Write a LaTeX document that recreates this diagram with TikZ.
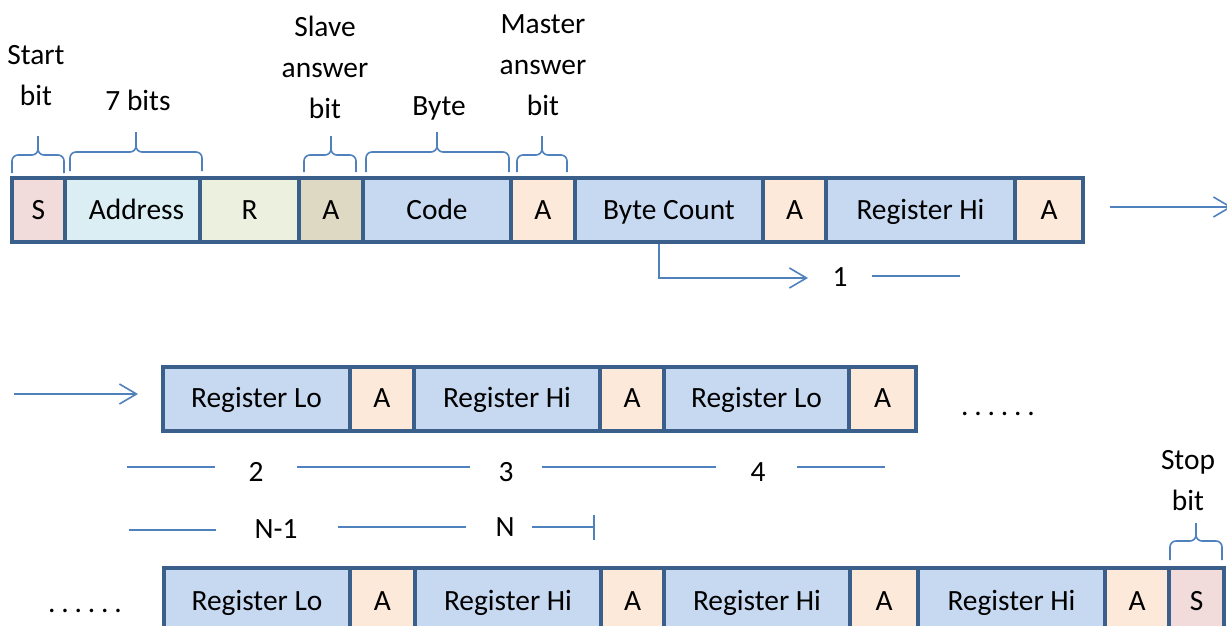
\documentclass[tikz,border=0pt]{standalone}
\usepackage{fontspec}
\setmainfont{Carlito}
\usetikzlibrary{arrows.meta}
\definecolor{cS}{HTML}{F2DCDB}
\definecolor{cAddr}{HTML}{DBEEF4}
\definecolor{cR}{HTML}{EBF1DE}
\definecolor{cAs}{HTML}{DDD9C3}
\definecolor{cBlue}{HTML}{C6D9F1}
\definecolor{cA}{HTML}{FDE9D9}
\definecolor{cBorder}{HTML}{3A5F8B}
\definecolor{lineblue}{HTML}{4F81BD}
\newcommand\rt{178}
\newcommand\rb{242}
\newcommand\rbase{219.3}
\newcommand\mycell[5]{%
  \draw[cellline, fill=#4] (#2,\rt) rectangle (#3,\rb);
  \node[txt] (#1) at ({(#2+#3)/2},\rbase) {#5};
}
\newcommand\mybrace[6]{%
  \draw[bracest] (#1,#6) |- (#3,#4) -- (#3,#5);
  \draw[bracest] (#2,#6) |- (#3,#4) -- (#3,#5);
}
\newcommand\mydots{.\hspace{5.8pt}.\hspace{5.8pt}.\hspace{5.8pt}.\hspace{5.8pt}.\hspace{5.8pt}.}
\begin{document}
\begin{tikzpicture}[x=1pt,y=-1pt,
  font=\fontsize{29.4}{41}\selectfont,
  txt/.style={inner sep=0pt, anchor=base},
  cellline/.style={draw=cBorder, line width=4.5pt},
  thinln/.style={draw=lineblue, line width=1.6pt},
  bracest/.style={thinln, rounded corners=6pt},
  arr/.style={thinln, -{Straight Barb[length=17pt,width=20pt]}}]
\useasboundingbox (0,0) rectangle (1227,626);
\clip (0,0) rectangle (1227,626);
\fill[white] (0,0) rectangle (1227,626);

% ---- row 1
\renewcommand\rt{178}\renewcommand\rb{242}\renewcommand\rbase{219.3}
\mycell{s1}{12}{65}{cS}{S}
\mycell{addr}{65}{200}{cAddr}{\hspace{8pt}Address}
\mycell{r}{200}{299}{cR}{R}
\mycell{a1}{299}{363}{cAs}{A}
\mycell{code}{363}{511}{cBlue}{Code}
\mycell{a2}{511}{575}{cA}{A}
\mycell{bc}{575}{763}{cBlue}{Byte Count}
\mycell{a3}{763}{826}{cA}{A}
\mycell{rh1}{826}{1015}{cBlue}{Register Hi}
\mycell{a4}{1015}{1083}{cA}{A}

% ---- row 2
\renewcommand\rt{367}\renewcommand\rb{431}\renewcommand\rbase{407.5}
\mycell{rl1}{163}{350}{cBlue}{Register Lo}
\mycell{a5}{350}{414}{cA}{A}
\mycell{rh2}{414}{600}{cBlue}{Register Hi}
\mycell{a6}{600}{664}{cA}{A}
\mycell{rl2}{664}{849}{cBlue}{Register Lo}
\mycell{a7}{849}{916}{cA}{A}

% ---- row 3
\renewcommand\rt{568}\renewcommand\rb{636}\renewcommand\rbase{610}
\mycell{rl3}{164}{350}{cBlue}{Register Lo}
\mycell{a8}{350}{415}{cA}{A}
\mycell{rh3}{415}{601}{cBlue}{Register Hi}
\mycell{a9}{601}{664}{cA}{A}
\mycell{rh4}{664}{850}{cBlue}{Register Hi}
\mycell{a10}{850}{918}{cA}{A}
\mycell{rh5}{918}{1105}{cBlue}{Register Hi}
\mycell{a11}{1105}{1169}{cA}{A}
\mycell{s2}{1169}{1224}{cS}{S}

% ---- labels (base = baseline of last line)
\node[txt, align=center] (lstart) at (36,105.8) {Start\\bit};
\node[txt] (lseven) at (138,110.7) {7 bits};
\node[txt, align=center] (lslave) at (325,118.3) {Slave\\answer\\bit};
\node[txt] (lbyte) at (439,115.4) {Byte};
\node[txt, align=center] (lmaster) at (543,115.8) {Master\\answer\\bit};
\node[txt, align=center] (lstop) at (1188,510) {Stop\\bit};

% ---- braces
\mybrace{12}{64}{38}{155}{136}{173}
\mybrace{70}{202}{136}{152}{132}{171}
\mybrace{304}{356}{331}{155}{136}{172}
\mybrace{366}{509}{437}{152}{132}{172}
\mybrace{517}{567}{542}{155}{136}{172}
\mybrace{1170}{1222}{1196}{541}{523}{560}

% ---- arrows
\coordinate (outA) at (1110,207);
\coordinate (outB) at (1232,207);
\draw[arr] (outA) -- (outB);
\coordinate (inA) at (14,394);
\coordinate (inB) at (138,394);
\draw[arr] (inA) -- (inB);
\coordinate (bcA) at (659,244);
\coordinate (bcB) at (808,278);
\draw[arr] (bcA) |- (bcB);

% ---- numbers and count lines
\node[txt] (n1) at (840,286) {1};
\coordinate (l1a) at (872,276); \coordinate (l1b) at (960,276);
\draw[thinln] (l1a) -- (l1b);

\node[txt] (n2) at (256,481.5) {2};
\node[txt] (n3) at (506,481.5) {3};
\node[txt] (n4) at (758,481) {4};
\coordinate (l2a) at (127,467); \coordinate (l2b) at (215,467);
\coordinate (l3a) at (297,467); \coordinate (l3b) at (470,467);
\coordinate (l4a) at (542,467); \coordinate (l4b) at (716,467);
\coordinate (l5a) at (797,467); \coordinate (l5b) at (885,467);
\draw[thinln] (l2a) -- (l2b);
\draw[thinln] (l3a) -- (l3b);
\draw[thinln] (l4a) -- (l4b);
\draw[thinln] (l5a) -- (l5b);

\node[txt] (nm1) at (276,538) {N-1};
\node[txt] (nn) at (505,536.5) {N};
\coordinate (m1a) at (129,530); \coordinate (m1b) at (216,530);
\coordinate (m2a) at (338,527); \coordinate (m2b) at (466,527);
\coordinate (m3a) at (532,527); \coordinate (m3b) at (595,527);
\draw[thinln] (m1a) -- (m1b);
\draw[thinln] (m2a) -- (m2b);
\draw[thinln, -{Bar[width=25pt]}] (m3a) -- (m3b);

% ---- dots
\node[txt] (dots1) at (998,415) {\mydots};
\node[txt] (dots2) at (85,612) {\mydots};
\end{tikzpicture}
\end{document}
